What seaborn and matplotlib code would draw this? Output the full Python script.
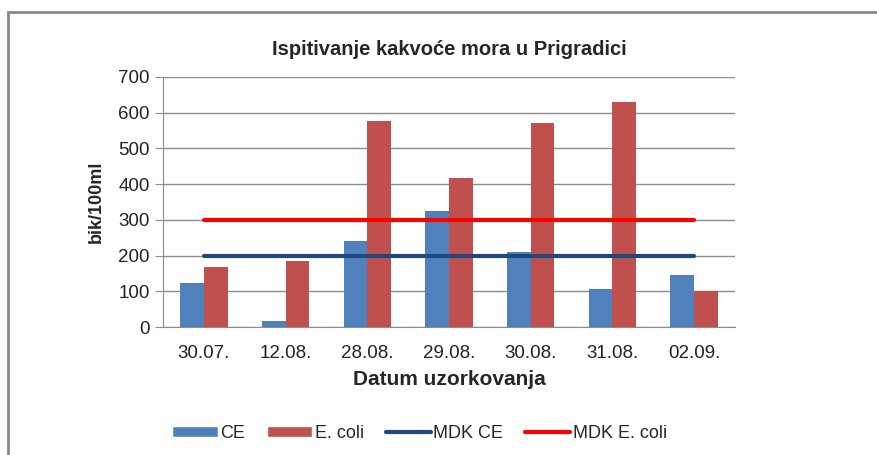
import pandas as pd
import numpy as np
import seaborn as sns
import matplotlib.pyplot as plt
from matplotlib.patches import Patch, Rectangle
from matplotlib.lines import Line2D

dates = ["30.07.", "12.08.", "28.08.", "29.08.", "30.08.", "31.08.", "02.09."]
ce = [123, 18, 240, 326, 209, 106, 146]
ecoli = [169, 184, 578, 418, 570, 629, 100]
mdk_ce = [200, 200, 200, 200, 200, 200, 200]
mdk_ecoli = [300, 300, 300, 300, 300, 300, 300]

df = pd.DataFrame({
    "Datum": dates * 2,
    "Vrijednost": ce + ecoli,
    "Serija": ["CE"] * len(dates) + ["E. coli"] * len(dates),
})

sns.set_style("white")
plt.rcParams["font.family"] = ["Liberation Sans", "DejaVu Sans"]

fig = plt.figure(figsize=(8.78, 4.55), dpi=100)
ax = fig.add_axes([0.1856, 0.2813, 0.6515, 0.5495])

sns.barplot(
    data=df, x="Datum", y="Vrijednost", hue="Serija", order=dates,
    palette={"CE": "#4F81BD", "E. coli": "#C0504D"},
    width=0.58, gap=0, saturation=1, linewidth=0, ax=ax, legend=False,
)
pos = np.arange(len(dates))
ax.plot(pos, mdk_ce, color="#1F497D", lw=3, solid_capstyle="round")
ax.plot(pos, mdk_ecoli, color="#FF0000", lw=3, solid_capstyle="round")

ax.set_xlim(-0.5, len(dates) - 0.5)
ax.set_ylim(0, 700)
ax.set_yticks(range(0, 701, 100))
ax.yaxis.grid(True, color="#8C8C8C", lw=1)
ax.set_axisbelow(True)
for s in ["top", "right"]:
    ax.spines[s].set_visible(False)
for s in ["left", "bottom"]:
    ax.spines[s].set_color("#8C8C8C")
ax.set_xticks(np.arange(-0.5, len(dates)), minor=True)
ax.tick_params(axis="x", which="major", length=0, pad=13, labelsize=13.5, colors="#222222")
ax.tick_params(axis="x", which="minor", length=6, color="#8C8C8C", direction="out")
ax.tick_params(axis="y", length=6, color="#8C8C8C", direction="out", labelsize=13.5,
               labelcolor="#222222", left=True)

ax.set_title("Ispitivanje kakvoće mora u Prigradici", fontsize=14.5, fontweight="bold",
             pad=16)
ax.set_xlabel("Datum uzorkovanja", fontsize=15, fontweight="bold", labelpad=6)
ax.set_ylabel("bik/100ml", fontsize=13, fontweight="bold", labelpad=10)

handles = [
    Patch(facecolor="#4F81BD", label="CE"),
    Patch(facecolor="#C0504D", label="E. coli"),
    Line2D([0], [0], color="#1F497D", lw=3, label="MDK CE"),
    Line2D([0], [0], color="#FF0000", lw=3, label="MDK E. coli"),
]
fig.legend(handles=handles, loc="center", bbox_to_anchor=(0.478, 0.048), ncol=4,
           frameon=False, fontsize=13, handlelength=2.5, handleheight=0.6,
           columnspacing=1.2, handletextpad=0.15)

fig.add_artist(Rectangle((8 / 878, -0.2), 1.2, 1.2 - 12 / 455, transform=fig.transFigure,
                         fill=False, edgecolor="#888888", lw=2, clip_on=False))

plt.savefig("out.png", dpi=100)
